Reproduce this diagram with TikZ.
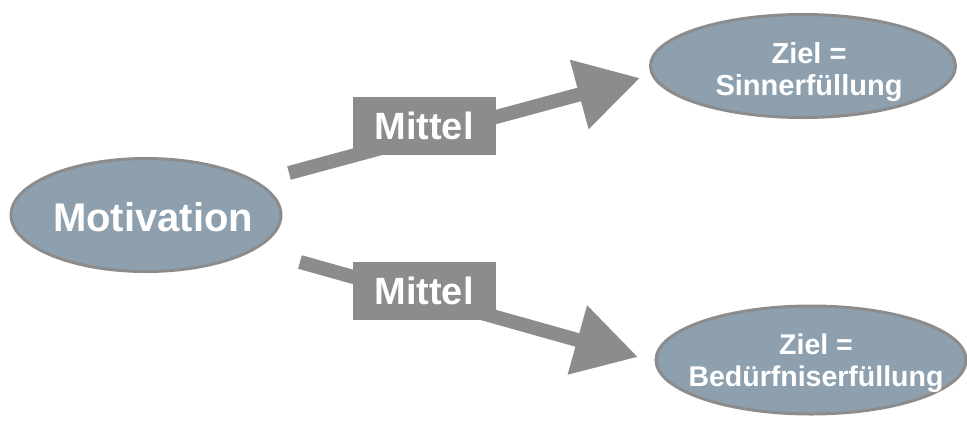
\documentclass[tikz,border=0pt]{standalone}
\usepackage{fontspec}
\setmainfont{Liberation Sans}
\usetikzlibrary{shapes.geometric,arrows.meta}
\definecolor{ellfill}{HTML}{8EA0AE}
\definecolor{edgegray}{HTML}{8C8C8C}
\tikzset{
  oval/.style={ellipse, fill=ellfill, draw=edgegray, line width=3pt, inner sep=0pt},
  ovaltext/.style={text=white, align=center, inner sep=0pt},
  mbox/.style={rectangle, fill=edgegray, text=white, inner sep=0pt, minimum width=143pt, minimum height=58pt, font=\fontsize{38}{40}\selectfont\bfseries},
  bigarrow/.style={draw=edgegray, line width=14pt, -{Triangle[length=63pt,width=68pt]}}
}
\begin{document}
\begin{tikzpicture}[x=1pt,y=-1pt]
\useasboundingbox (0,0) rectangle (967,421);
\node[oval, minimum width=270pt, minimum height=113pt] (motiv) at (146,215) {};
\node[ovaltext, font=\fontsize{40}{44}\selectfont\bfseries] (motivt) at (153,217) {Motivation};
\node[oval, minimum width=305pt, minimum height=103pt] (ziel1) at (803,66) {};
\node[ovaltext, font=\fontsize{29}{32}\selectfont\bfseries] (ziel1t) at (809,72) {Ziel =\\Sinnerfüllung};
\node[oval, minimum width=310pt, minimum height=108pt] (ziel2) at (811,360) {};
\node[ovaltext, font=\fontsize{28.5}{32.5}\selectfont\bfseries] (ziel2t) at (816,363) {Ziel =\\Bedürfniserfüllung};
\coordinate (s1) at (289,173);
\coordinate (t1) at (640,78);
\coordinate (s2) at (300,262);
\coordinate (t2) at (638,357);
\draw[bigarrow] (s1) -- (t1);
\draw[bigarrow] (s2) -- (t2);
\node[mbox] (m1) at (424,126) {Mittel};
\node[mbox] (m2) at (424,291) {Mittel};
\end{tikzpicture}
\end{document}
